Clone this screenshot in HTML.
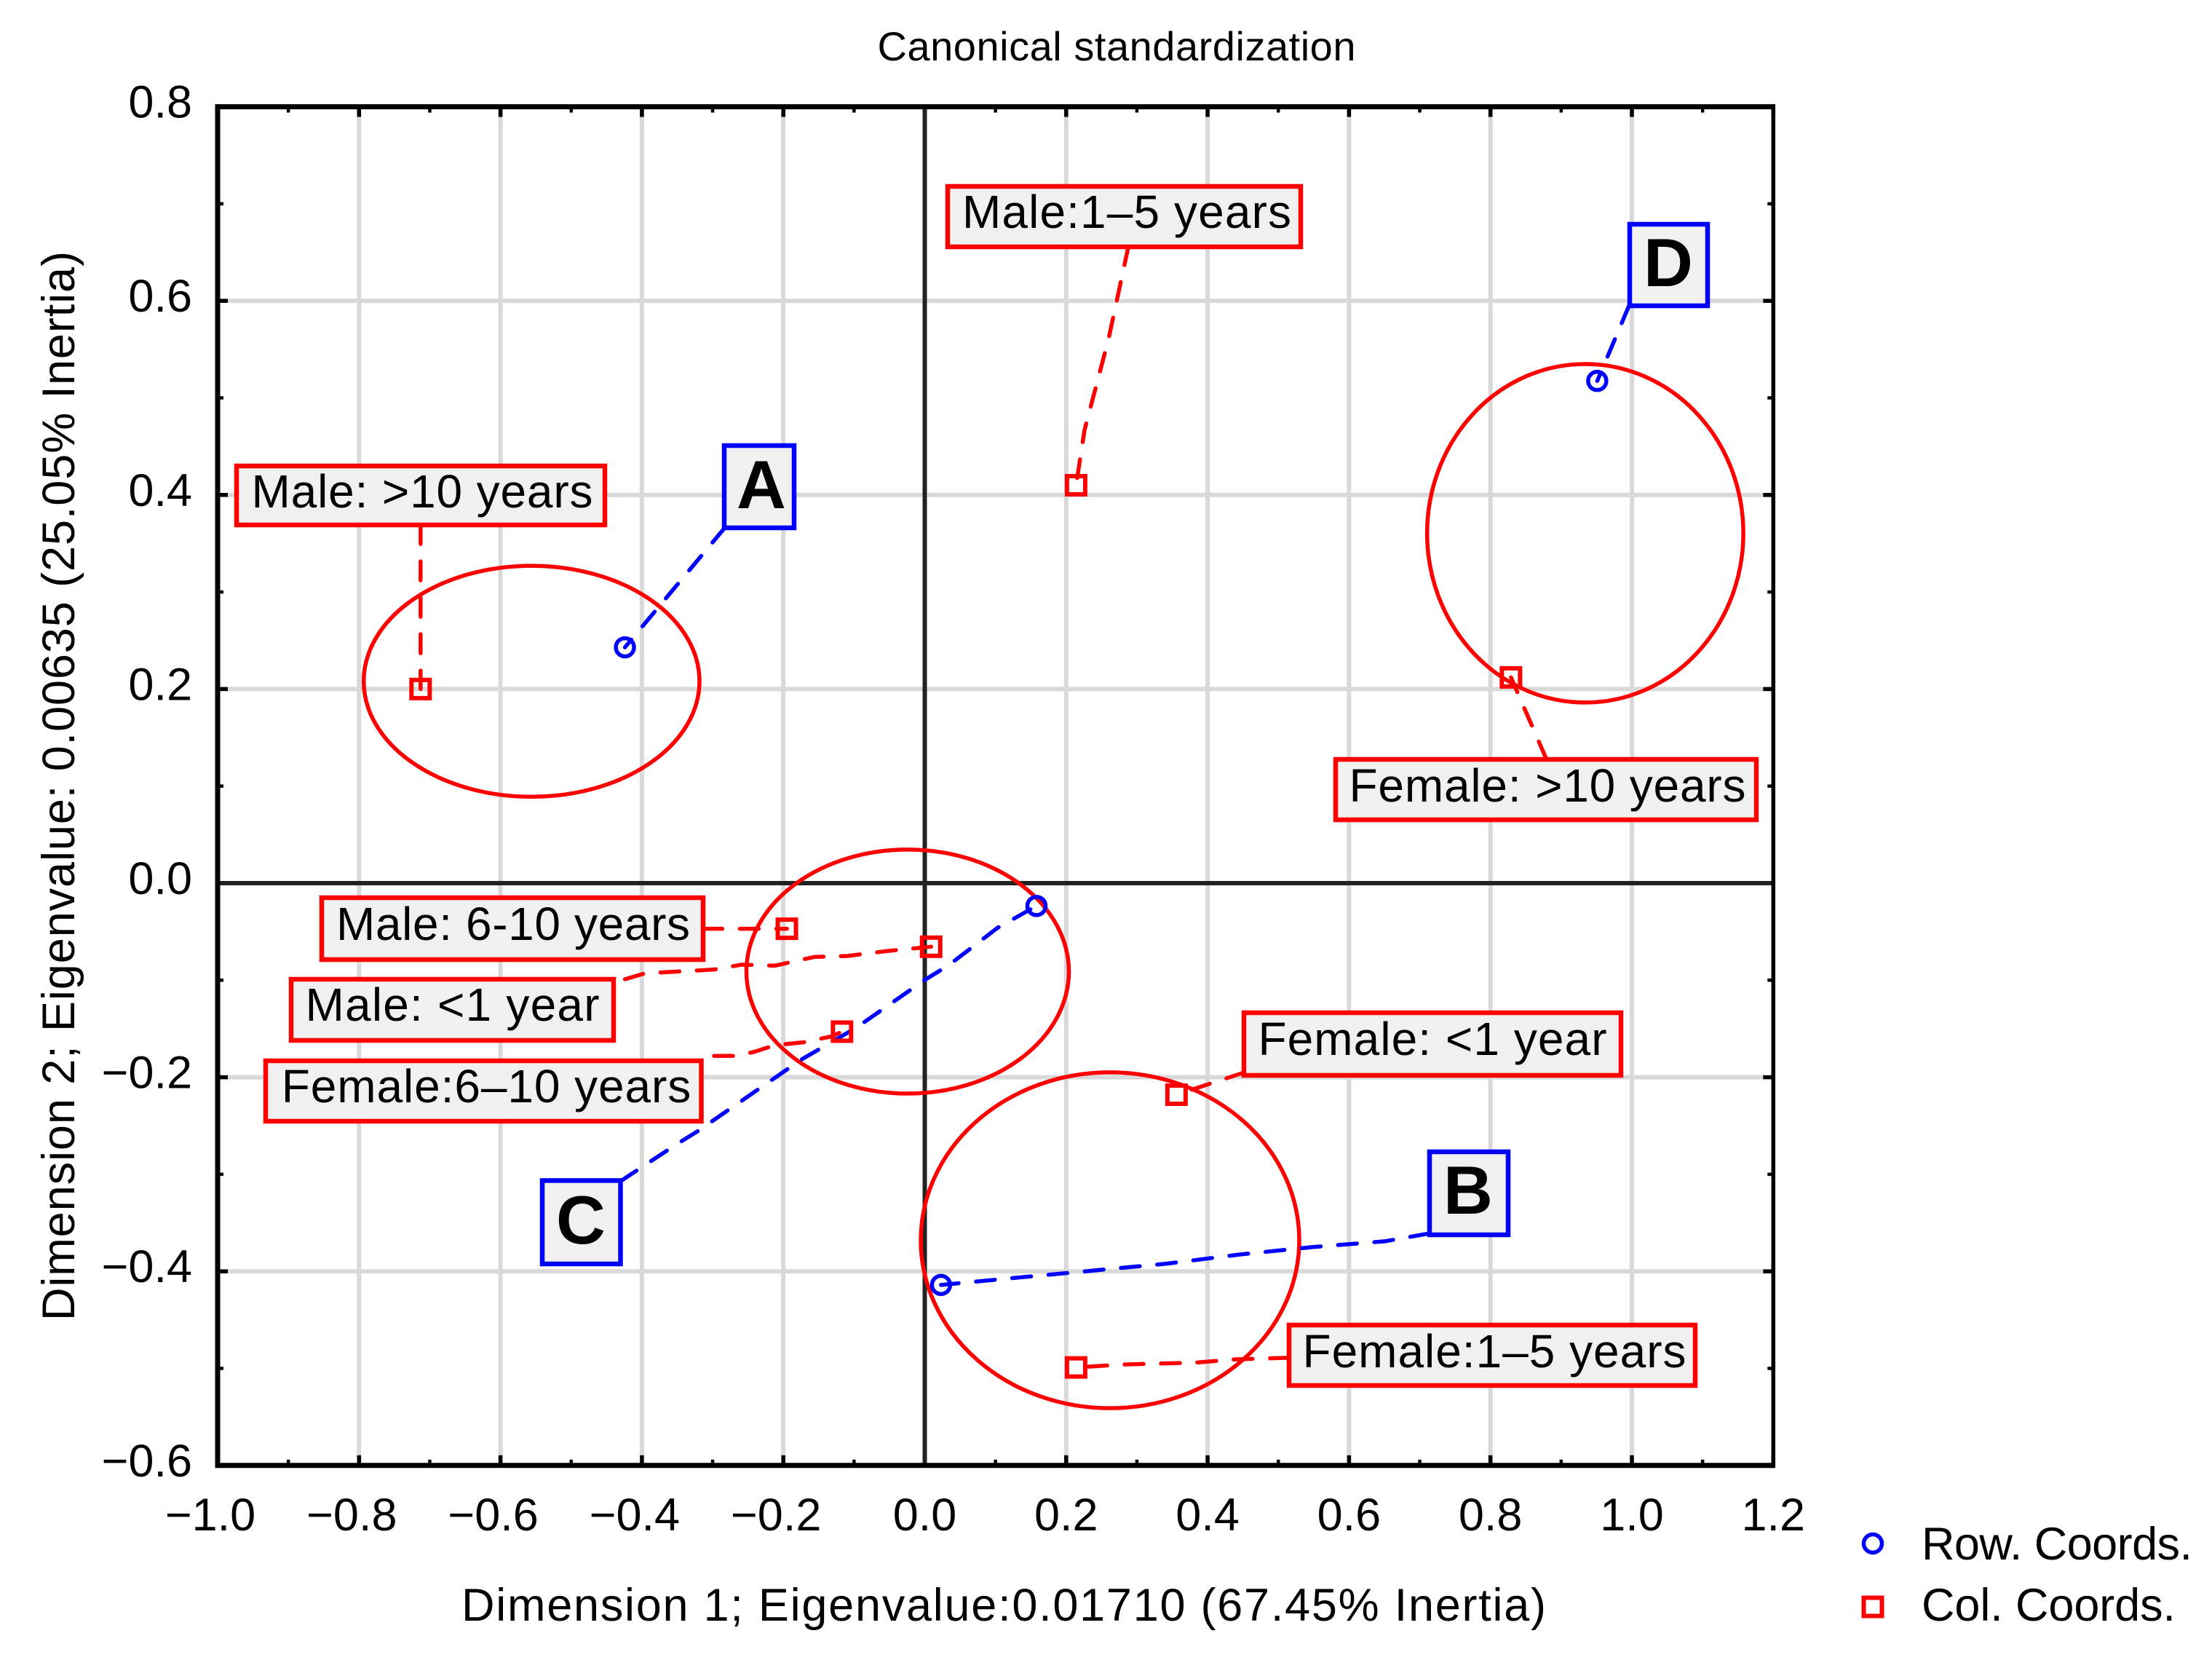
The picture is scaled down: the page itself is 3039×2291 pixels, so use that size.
<!DOCTYPE html>
<html lang="en">
<head>
<meta charset="utf-8">
<title>Canonical standardization</title>
<style>
html,body{margin:0;padding:0;background:#fff}
svg{display:block;font-family:"Liberation Sans",Arial,sans-serif}
.box{fill:#f0f0f0;stroke-width:6.5}
.lab{font-size:64px;text-anchor:middle;fill:#000}
.let{font-size:94px;font-weight:bold;text-anchor:middle;fill:#000}
</style>
</head>
<body>
<svg id="chart" xmlns="http://www.w3.org/2000/svg" width="3039" height="2291" viewBox="0 0 3039 2291">
<rect width="3039" height="2291" fill="#fff"/>
<text x="1534" y="83" font-size="56" text-anchor="middle" textLength="657">Canonical standardization</text>
<text transform="translate(102,1079.5) rotate(-90)" font-size="63" text-anchor="middle" textLength="1469">Dimension 2; Eigenvalue: 0.00635 (25.05% Inertia)</text>
<text x="1379" y="2226" font-size="63" text-anchor="middle" textLength="1490">Dimension 1; Eigenvalue:0.01710 (67.45% Inertia)</text>
<g id="grid"></g>
<g id="axes"></g>
<g id="ellipses"></g>
<g id="leaders"></g>
<g>
<g><rect class="box" stroke="#f00" x="325" y="640" width="506" height="81"/><text class="lab" x="580" y="697" textLength="469">Male: &gt;10 years</text></g>
<g><rect class="box" stroke="#f00" x="1302" y="256" width="485" height="83"/><text class="lab" x="1548" y="313" textLength="452">Male:1–5 years</text></g>
<g><rect class="box" stroke="#f00" x="1835" y="1043" width="578" height="83"/><text class="lab" x="2126" y="1101" textLength="545">Female: &gt;10 years</text></g>
<g><rect class="box" stroke="#f00" x="442" y="1233" width="524" height="85"/><text class="lab" x="705" y="1291" textLength="486">Male: 6-10 years</text></g>
<g><rect class="box" stroke="#f00" x="400" y="1345" width="443" height="84"/><text class="lab" x="621.5" y="1402" textLength="404">Male: &lt;1 year</text></g>
<g><rect class="box" stroke="#f00" x="365" y="1457" width="598.5" height="83"/><text class="lab" x="668" y="1514" textLength="562.5">Female:6–10 years</text></g>
<g><rect class="box" stroke="#f00" x="1709" y="1391" width="518" height="86"/><text class="lab" x="1968" y="1449" textLength="479">Female: &lt;1 year</text></g>
<g><rect class="box" stroke="#f00" x="1771" y="1820" width="558" height="83"/><text class="lab" x="2053" y="1878" textLength="527">Female:1–5 years</text></g>
<g><rect class="box" stroke="#00f" x="995" y="612" width="96" height="113"/><text class="let" x="1046" y="698">A</text></g>
<g><rect class="box" stroke="#00f" x="1964" y="1582" width="108" height="114"/><text class="let" x="2017" y="1667">B</text></g>
<g><rect class="box" stroke="#00f" x="745" y="1621.5" width="107.5" height="114.5"/><text class="let" x="798" y="1708">C</text></g>
<g><rect class="box" stroke="#00f" x="2239" y="308" width="107" height="112"/><text class="let" x="2292" y="393">D</text></g>
</g>
<g id="points"></g>
<g>
<g><circle cx="2573" cy="2120" r="12.5" fill="none" stroke="#00f" stroke-width="5.5"/><text x="2640" y="2142" font-size="63" textLength="372">Row. Coords.</text></g>
<g><rect x="2560.5" y="2194.5" width="25" height="25" fill="none" stroke="#f00" stroke-width="6"/><text x="2640" y="2226" font-size="63" textLength="349">Col. Coords.</text></g>
</g>
</svg>
<script>
const xTickValues = [-1, -0.8, -0.6, -0.4, -0.2, 0, 0.2, 0.4, 0.6, 0.8, 1, 1.2];
const xTickLabels = ['−1.0', '−0.8', '−0.6', '−0.4', '−0.2', '0.0', '0.2', '0.4', '0.6', '0.8', '1.0', '1.2'];
const yTickValues = [0.8, 0.6, 0.4, 0.2, 0, -0.2, -0.4, -0.6];
const yTickLabels = ['0.8', '0.6', '0.4', '0.2', '0.0', '−0.2', '−0.4', '−0.6'];
const xMinorValues = [-0.9, -0.7, -0.5, -0.3, -0.1, 0.1, 0.3, 0.5, 0.7, 0.9, 1.1];
const yMinorValues = [0.7, 0.5, 0.3, 0.1, -0.1, -0.3, -0.5];

const rowNames = ['A', 'C', 'B', 'D'];
const rowDim1 = [-0.424, 0.158, 0.023, 0.951];
const rowDim2 = [0.243, -0.0235, -0.414, 0.5175];

const colNames = ['male-over-10', 'male-1-5', 'female-over-10', 'male-6-10', 'male-under-1', 'female-6-10', 'female-under-1', 'female-1-5'];
const colDim1 = [-0.713, 0.214, 0.829, -0.195, 0.009, -0.117, 0.356, 0.214];
const colDim2 = [0.2, 0.41, 0.212, -0.047, -0.0655, -0.153, -0.218, -0.499];

const ellipseDim1 = [-0.556, 0.934, -0.0242, 0.262];
const ellipseDim2 = [0.208, 0.3605, -0.0911, -0.368];
const ellipseSpread1 = [0.2374, 0.2236, 0.228, 0.2676];
const ellipseSpread2 = [0.119, 0.1744, 0.1257, 0.173];

const rowLeaderRoutes = [
  [[-0.283, 0.366]],
  [[-0.43, -0.307], [-0.353, -0.27], [-0.322, -0.256], [-0.175, -0.182], [-0.097, -0.149], [0.0015, -0.099], [0.033, -0.085], [0.103, -0.046]],
  [[0.713, -0.361], [0.651, -0.369], [0.548, -0.375], [0.446, -0.3826], [0.343, -0.392], [0.241, -0.399], [0.138, -0.406]],
  [[0.996, 0.595]]
];
const colLeaderRoutes = [
  [[-0.713, 0.369]],
  [[0.288, 0.656], [0.26, 0.561], [0.226, 0.467]],
  [[0.879, 0.128]],
  [[-0.313, -0.047]],
  [[-0.424, -0.099], [-0.396, -0.093], [-0.298, -0.089], [-0.259, -0.084], [-0.212, -0.085], [-0.156, -0.076], [-0.109, -0.075], [-0.054, -0.07]],
  [[-0.298, -0.178], [-0.27, -0.178], [-0.242, -0.174], [-0.212, -0.167], [-0.172, -0.164], [-0.132, -0.158]],
  [[0.452, -0.195]],
  [[0.515, -0.489], [0.441, -0.4906], [0.383, -0.494], [0.28, -0.496]]
];

const xScale = v => 1270.5 + 971.5 * v;
const yScale = v => 1213 - 1333 * v;
const xLen = v => 971.5 * v;
const yLen = v => 1333 * v;
const NS = 'http://www.w3.org/2000/svg';
const gridLayer = document.getElementById('grid');
const axesLayer = document.getElementById('axes');
const ellipseLayer = document.getElementById('ellipses');
const leaderLayer = document.getElementById('leaders');
const pointLayer = document.getElementById('points');

function make(tag, parent, attrs) {
  const el = document.createElementNS(NS, tag);
  for (const key in attrs) el.setAttribute(key, attrs[key]);
  parent.appendChild(el);
  return el;
}
const left = xScale(-1), right = xScale(1.2), top_ = yScale(0.8), bottom = yScale(-0.6);

xTickValues.forEach((v, i) => {
  if (v !== -1 && v !== 1.2 && v !== 0) {
    const g = make('line', gridLayer, {x1: xScale(v), x2: xScale(v), y1: top_, y2: bottom, stroke: '#d9d9d9', 'stroke-width': 6});
    
    
  }
  const t = make('text', axesLayer, {x: xScale(v) + (v < 0 ? -10 : 0), y: 2102, 'font-size': 63, 'text-anchor': 'middle'});
  t.textContent = xTickLabels[i];
  
  
  [[bottom, bottom - 14], [top_, top_ + 14]].forEach(p => {
    const k = make('line', axesLayer, {x1: xScale(v), x2: xScale(v), y1: p[0], y2: p[1], stroke: '#000', 'stroke-width': 5.5});
    
    
  });
});
yTickValues.forEach((v, i) => {
  if (v !== 0.8 && v !== -0.6 && v !== 0) {
    const g = make('line', gridLayer, {x1: left, x2: right, y1: yScale(v), y2: yScale(v), stroke: '#d9d9d9', 'stroke-width': 6});
    
    
  }
  const t = make('text', axesLayer, {x: 264, y: yScale(v) + 15, 'font-size': 63, 'text-anchor': 'end'});
  t.textContent = yTickLabels[i];
  
  
  [[left, left + 14], [right, right - 14]].forEach(p => {
    const k = make('line', axesLayer, {x1: p[0], x2: p[1], y1: yScale(v), y2: yScale(v), stroke: '#000', 'stroke-width': 5.5});
    
    
  });
});
xMinorValues.forEach(v => {
  [[bottom, bottom - 8], [top_, top_ + 8]].forEach(p => {
    const k = make('line', axesLayer, {x1: xScale(v), x2: xScale(v), y1: p[0], y2: p[1], stroke: '#000', 'stroke-width': 4.5});
    
    
  });
});
yMinorValues.forEach(v => {
  [[left, left + 8], [right, right - 8]].forEach(p => {
    const k = make('line', axesLayer, {x1: p[0], x2: p[1], y1: yScale(v), y2: yScale(v), stroke: '#000', 'stroke-width': 4.5});
    
    
  });
});
const zeroX = make('line', axesLayer, {x1: xScale(0), x2: xScale(0), y1: top_, y2: bottom, stroke: '#222', 'stroke-width': 6});


const zeroY = make('line', axesLayer, {x1: left, x2: right, y1: yScale(0), y2: yScale(0), stroke: '#222', 'stroke-width': 6});


const frameLeft = make('line', axesLayer, {x1: left, x2: left, y1: top_ - 3.5, y2: bottom + 3.5, stroke: '#000', 'stroke-width': 7});


const frameRight = make('line', axesLayer, {x1: right, x2: right, y1: top_ - 3.5, y2: bottom + 3.5, stroke: '#000', 'stroke-width': 5.5});


const frameTop = make('line', axesLayer, {x1: left, x2: right, y1: top_, y2: top_, stroke: '#000', 'stroke-width': 7});


const frameBottom = make('line', axesLayer, {x1: left, x2: right, y1: bottom, y2: bottom, stroke: '#000', 'stroke-width': 7});



ellipseDim1.forEach((v, i) => {
  const e = make('ellipse', ellipseLayer, {cx: xScale(v), cy: yScale(ellipseDim2[i]), rx: xLen(ellipseSpread1[i]), ry: yLen(ellipseSpread2[i]), fill: 'none', stroke: '#f00', 'stroke-width': 5.5});
  
  
});

function leaderPoints(route, px, py) {
  return route.concat([[px, py]]).map(p => xScale(p[0]) + ',' + yScale(p[1])).join(' ');
}
rowDim1.forEach((v, i) => {
  const l = make('polyline', leaderLayer, {points: leaderPoints(rowLeaderRoutes[i], v, rowDim2[i]), fill: 'none', stroke: '#00f', 'stroke-width': 5.5, 'stroke-dasharray': '26 24', 'stroke-linecap': 'round'});
  
  
});
colDim1.forEach((v, i) => {
  const l = make('polyline', leaderLayer, {points: leaderPoints(colLeaderRoutes[i], v, colDim2[i]), fill: 'none', stroke: '#f00', 'stroke-width': 5.5, 'stroke-dasharray': '26 24', 'stroke-linecap': 'round'});
  
  
});
rowDim1.forEach((v, i) => {
  const c = make('circle', pointLayer, {cx: xScale(v), cy: yScale(rowDim2[i]), r: 12.5, fill: 'none', stroke: '#00f', 'stroke-width': 5.5});
  
  
});
colDim1.forEach((v, i) => {
  const r = make('rect', pointLayer, {x: xScale(v) - 12.5, y: yScale(colDim2[i]) - 12.5, width: 25, height: 25, fill: 'none', stroke: '#f00', 'stroke-width': 6});
  
  
});
</script>
</body>
</html>
